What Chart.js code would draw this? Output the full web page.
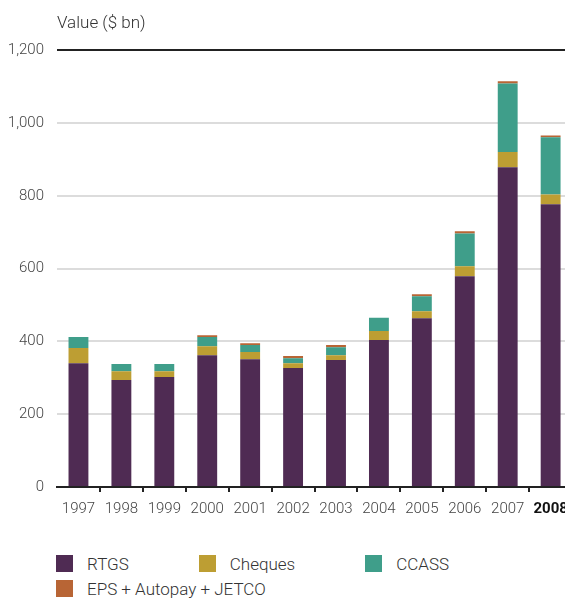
<!DOCTYPE html>
<html>
<head>
<meta charset="utf-8">
<script src="https://cdn.jsdelivr.net/npm/chart.js@4/dist/chart.umd.min.js"></script>
<style>
	html, body { margin: 0; padding: 0; overflow: hidden; background: #fff; width: 565px; height: 598px; }
	#wrap { position: absolute; left: 0; top: 0; width: 576px; height: 527px; }
	#legend {
		position: absolute; left: 56px; top: 555px; width: 509px;
		display: flex; flex-wrap: wrap; column-gap: 70px; row-gap: 8px;
		font-family: 'Roboto', sans-serif; font-weight: 300; font-size: 17px; color: #333;
	}
	#legend .item { display: flex; align-items: center; height: 17px; white-space: nowrap; }
	#legend .box { width: 17px; height: 17px; margin-right: 14px; }
</style>
</head>
<body>
<div id="wrap"><canvas id="chart" width="576" height="527"></canvas></div>
<div id="legend"></div>
<script>
const FONT = "'Roboto', sans-serif";

const years = ['1997', '1998', '1999', '2000', '2001', '2002', '2003', '2004', '2005', '2006', '2007', '2008'];
const rtgs = [340, 294, 302, 362, 351, 327, 349, 404, 464, 579, 879, 777];
const cheques = [42, 24, 16, 25, 20, 13, 13, 25, 19, 28, 42, 27];
const ccass = [30, 20, 20, 25, 19, 14, 22, 36, 41, 90, 188, 157];
const eps = [0, 0, 0, 5, 5, 6, 6, 0, 6, 6, 6, 5];

const colors = {
	rtgs: '#4f2b53',
	cheques: '#bd9e33',
	ccass: '#3f9e8a',
	eps: '#b86535',
};

function series(label, data, color) {
	return {
		label: label,
		data: data,
		backgroundColor: color,
		borderWidth: 0,
		stack: 'total',
		barPercentage: 0.463,
		categoryPercentage: 1,
	};
}

let chart = new Chart(document.getElementById('chart'), {
	type: 'bar',
	data: {
		labels: years,
		datasets: [
			series('RTGS', rtgs, colors.rtgs),
			series('Cheques', cheques, colors.cheques),
			series('CCASS', ccass, colors.ccass),
			series('EPS + Autopay + JETCO', eps, colors.eps),
		]
	},
	options: {
		responsive: false,
		animation: false,
		devicePixelRatio: 1,
		layout: { padding: 0 },
		plugins: {
			legend: { display: false },
			tooltip: { enabled: false },
			title: {
				display: true,
				text: 'Value ($ bn)',
				align: 'start',
				fullSize: false,
				color: '#333',
				font: { family: FONT, size: 17, weight: 300 },
				padding: { top: 14, bottom: 16 },
			},
		},
		scales: {
			x: {
				stacked: true,
				afterFit: (scale) => { scale.height = 40; },
				border: { display: true, color: '#222', width: 2 },
				grid: {
					offset: true,
					drawOnChartArea: false,
					drawTicks: true,
					tickLength: 5,
					lineWidth: 2,
					color: (ctx) => (ctx.index === 0 ? 'rgba(0,0,0,0)' : '#222'),
				},
				ticks: {
					padding: 8,
					maxRotation: 0,
					autoSkip: false,
					color: (ctx) => (ctx.index === 11 ? '#111' : '#444'),
					font: (ctx) => ({ family: FONT, size: 15, weight: ctx.index === 11 ? 'bold' : 300 }),
				},
			},
			y: {
				stacked: true,
				min: 0,
				max: 1200,
				afterFit: (scale) => { scale.width = 57; },
				border: { display: false },
				grid: {
					drawTicks: false,
					lineWidth: 2,
					color: (ctx) => (ctx.tick && (ctx.tick.value === 1200 || ctx.tick.value === 0) ? '#222' : '#dcdcdc'),
				},
				ticks: {
					stepSize: 200,
					padding: 13,
					color: '#444',
					font: { family: FONT, size: 15, weight: 300 },
				},
			},
		},
	},
});

// html legend built from the datasets
let legend = document.getElementById('legend');
chart.data.datasets.forEach(ds => {
	let item = document.createElement('div');
	item.className = 'item';
	let box = document.createElement('span');
	box.className = 'box';
	box.style.background = ds.backgroundColor;
	let text = document.createElement('span');
	text.textContent = ds.label;
	item.appendChild(box);
	item.appendChild(text);
	legend.appendChild(item);
});
</script>
</body>
</html>
